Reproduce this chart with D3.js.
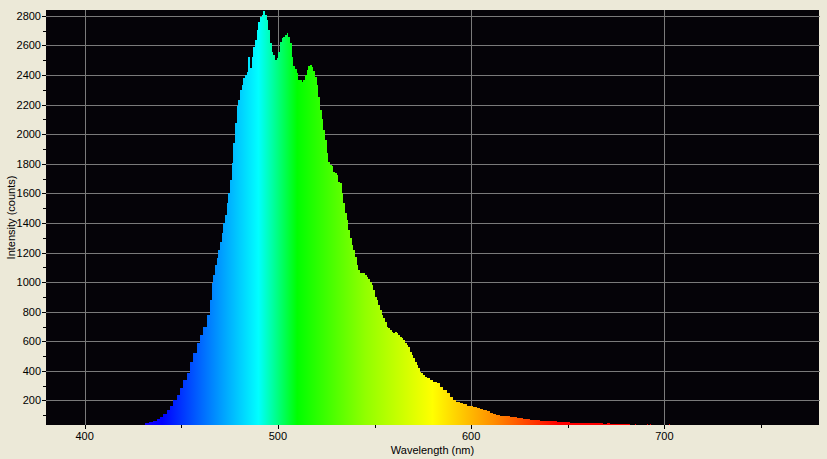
<!DOCTYPE html>
<html>
<head>
<meta charset="utf-8">
<script src="https://cdn.jsdelivr.net/npm/d3@7"></script>
<style>
  html, body { margin: 0; padding: 0; background: #ECE9D8; }
  svg { display: block; }
  text { font-family: "Liberation Sans", Arial, sans-serif; font-size: 11px; fill: #000; }
</style>
</head>
<body>
<svg id="chart" width="827" height="459"></svg>
<script>
// ---- data ----
const wavelengths = [
  431.2,433.3,435.5,437.2,439.0,440.7,442.4,444.1,445.8,447.6,449.3,451.0,452.8,454.5,456.2,457.9,
  459.6,461.4,463.1,464.8,465.7,466.5,467.4,468.3,469.1,470.0,470.9,471.7,472.6,473.5,474.3,475.2,
  476.0,476.9,477.8,478.6,479.5,480.3,481.2,482.1,482.9,483.8,484.6,485.5,486.4,487.2,488.1,489.0,
  489.8,490.7,491.6,492.4,493.3,494.2,495.0,495.9,496.7,497.6,498.5,499.3,500.2,501.0,501.9,502.7,
  503.6,504.5,505.3,506.2,507.1,507.9,508.8,509.7,510.5,511.4,512.3,513.1,514.0,514.8,515.7,516.6,
  517.4,518.3,519.1,520.0,520.8,521.7,522.6,523.4,524.3,525.2,526.0,526.9,527.8,528.6,529.5,530.4,
  531.2,532.1,533.0,533.8,534.7,535.5,536.4,537.3,538.1,539.0,539.8,540.7,541.5,542.4,543.3,544.1,
  545.0,545.9,546.7,547.6,548.5,549.3,550.2,551.1,551.9,552.8,553.7,554.5,555.4,556.2,557.1,557.9,
  558.8,559.7,560.5,561.4,562.2,563.1,564.0,564.8,565.7,566.6,567.4,568.3,569.2,570.0,570.9,571.8,
  572.6,573.5,574.3,575.2,576.1,576.9,578.6,580.3,582.1,583.8,585.5,587.3,589.0,590.7,592.4,594.2,
  595.9,597.6,599.3,601.0,602.8,604.5,606.2,608.0,609.7,611.4,613.1,614.8,616.6,618.3,620.0,621.7,
  623.5,625.2,626.9,628.7,630.4,632.1,633.8,635.5,637.3,639.0,640.7,642.4,644.2,645.9,647.6,649.4,
  651.1,652.8,654.5,656.2,657.9,659.7,661.4,663.1,664.9,666.6,668.3,670.1,671.8,673.5,675.2,676.9,
  678.6,680.4,682.1,684.7,685.4,687.3,690.9,691.6,692.5,693.2,694.0,702.3,703.0,703.8
];
const counts = [
  45,55,63,72,86,105,135,165,200,236,282,338,383,462,519,586,
  642,699,778,879,992,1048,1116,1161,1218,1274,1330,1398,1454,1534,1601,1690,
  1804,1940,2075,2188,2233,2300,2334,2380,2402,2424,2520,2447,2525,2593,2640,2705,
  2762,2795,2806,2830,2806,2773,2705,2615,2559,2536,2503,2514,2559,2626,2649,2660,
  2671,2683,2660,2615,2525,2458,2440,2413,2368,2367,2356,2367,2402,2436,2458,2465,
  2452,2430,2390,2334,2255,2165,2104,2030,1962,1872,1815,1793,1782,1748,1737,1725,
  1680,1669,1601,1534,1466,1420,1353,1297,1251,1218,1172,1116,1082,1060,1060,1060,
  1048,1037,1020,1003,981,947,902,879,846,812,778,755,733,699,688,676,
  665,654,660,654,642,631,620,609,586,575,563,530,507,485,462,440,
  417,394,383,372,360,349,338,327,316,293,270,248,225,203,187,180,
  178,165,160,157,148,143,135,128,118,110,102,97,94,94,88,86,
  82,79,75,72,69,67,65,63,62,62,59,58,57,55,54,52,
  50,50,49,47,46,45,46,46,45,46,44,45,44,44,43,44,
  41,40,30,41,30,30,41,30,41,30,30,41,30,30
];
const yMajorTicks = [200,400,600,800,1000,1200,1400,1600,1800,2000,2200,2400,2600,2800];
const yMinorTicks = [100,300,500,700,900,1100,1300,1500,1700,1900,2100,2300,2500,2700];
const xMajorTicks = [400,500,600,700];
const xMinorTicks = [450,550,650,750];
const spectrumStops = [
  [380,"#8000ff"],[440,"#0000ff"],[465,"#0080ff"],[490,"#00ffff"],[510,"#00ff00"],
  [545,"#90ff00"],[580,"#ffff00"],[612,"#ff8c00"],[645,"#ff0000"],[780,"#ff0000"]
];
const xTitle = "Wavelength (nm)";
const yTitle = "Intensity (counts)";

// ---- layout ----
const W = 827, H = 459;
const plot = { left: 46, top: 10, right: 819, bottom: 425 };

const svg = d3.select("#chart");
svg.append("rect").attr("width", W).attr("height", H).attr("fill", "#ECE9D8");

const x = d3.scaleLinear().domain([380, 780]).range([plot.left, plot.right]);
const y = d3.scaleLinear().domain([34, 2840]).range([plot.bottom, plot.top]).clamp(true);

// plot background
svg.append("rect")
  .attr("x", plot.left).attr("y", plot.top)
  .attr("width", plot.right - plot.left).attr("height", plot.bottom - plot.top)
  .attr("fill", "#050308");

// gradient
const defs = svg.append("defs");
const grad = defs.append("linearGradient")
  .attr("id", "spec").attr("gradientUnits", "userSpaceOnUse")
  .attr("x1", x(380)).attr("x2", x(780)).attr("y1", 0).attr("y2", 0);
grad.selectAll("stop").data(spectrumStops).join("stop")
  .attr("offset", d => (d[0] - 380) / 400)
  .attr("stop-color", d => d[1]);

defs.append("clipPath").attr("id", "clip").append("rect")
  .attr("x", plot.left).attr("y", plot.top)
  .attr("width", plot.right - plot.left).attr("height", plot.bottom - plot.top);

const px = v => Math.round(v) + 0.5;

// grid lines
const grid = svg.append("g").attr("stroke", "#7a7a7a").attr("stroke-width", 1).attr("shape-rendering", "crispEdges");
grid.selectAll("line.h").data(yMajorTicks).join("line").attr("class", "h")
  .attr("x1", plot.left - 2).attr("x2", plot.right + 1)
  .attr("y1", d => px(y(d))).attr("y2", d => px(y(d)));
grid.selectAll("line.v").data(xMajorTicks).join("line").attr("class", "v")
  .attr("y1", plot.top).attr("y2", plot.bottom)
  .attr("x1", d => px(x(d))).attr("x2", d => px(x(d)));

// spectrum bars (step area)
const data = wavelengths.map((w, i) => ({ w, c: counts[i] }));
const area = d3.area()
  .x(d => x(d.w))
  .y0(y(34))
  .y1(d => y(d.c))
  .curve(d3.curveStepAfter);
svg.append("path")
  .datum(data)
  .attr("clip-path", "url(#clip)")
  .attr("fill", "url(#spec)")
  .attr("shape-rendering", "crispEdges")
  .attr("d", area);

// axes
const ax = svg.append("g").attr("stroke", "#000").attr("shape-rendering", "crispEdges");
// y major ticks
ax.selectAll("line.ym").data(yMajorTicks).join("line")
  .attr("x1", plot.left - 4).attr("x2", plot.left)
  .attr("y1", d => px(y(d))).attr("y2", d => px(y(d)));
ax.selectAll("line.yn").data(yMinorTicks).join("line")
  .attr("x1", plot.left - 3).attr("x2", plot.left)
  .attr("y1", d => px(y(d))).attr("y2", d => px(y(d)));
// x ticks
ax.selectAll("line.xm").data(xMajorTicks).join("line")
  .attr("y1", plot.bottom).attr("y2", plot.bottom + 4)
  .attr("x1", d => px(x(d))).attr("x2", d => px(x(d)));
ax.selectAll("line.xn").data(xMinorTicks).join("line")
  .attr("y1", plot.bottom).attr("y2", plot.bottom + 3)
  .attr("x1", d => px(x(d))).attr("x2", d => px(x(d)));

// tick labels
svg.append("g").selectAll("text").data(yMajorTicks).join("text")
  .attr("x", plot.left - 5).attr("y", d => y(d))
  .attr("dy", "0.36em").attr("text-anchor", "end")
  .text(d => d);
svg.append("g").selectAll("text").data(xMajorTicks).join("text")
  .attr("x", d => x(d)).attr("y", plot.bottom + 15)
  .attr("text-anchor", "middle")
  .text(d => d);

// titles
svg.append("text")
  .attr("x", (plot.left + plot.right) / 2).attr("y", 454)
  .attr("text-anchor", "middle").text(xTitle);
svg.append("text")
  .attr("transform", `translate(15,${(plot.top + plot.bottom) / 2}) rotate(-90)`)
  .attr("text-anchor", "middle").text(yTitle);
</script>
</body>
</html>
